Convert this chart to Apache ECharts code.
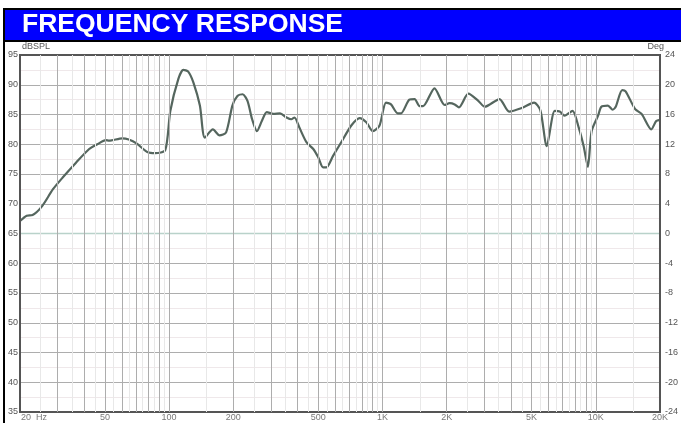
<!DOCTYPE html>
<html><head><meta charset="utf-8">
<script src="https://cdn.jsdelivr.net/npm/echarts@6/dist/echarts.min.js"></script>
<style>html,body{margin:0;padding:0;background:#fff}#c{width:681px;height:423px}</style>
</head><body><div id="c"></div>
<script>
// ---- data ----
const freqs = [20, 21.5, 22.9, 25.4, 28.5, 31.7, 36.6, 42.2, 46.1, 50.5, 52.3, 60.3, 64.7, 70.6, 79, 86.1, 95.9, 101.3, 110.5, 116.6, 122.9, 129.9, 139.4, 147, 160.4, 172.3, 185, 198, 209, 221, 233, 245, 258, 272, 287, 308, 331, 355, 374, 387, 408, 441, 474, 500, 527, 546, 586, 640, 716, 782, 840, 902, 968, 1039, 1097, 1179, 1222, 1337, 1415, 1494, 1550, 1754, 1957, 2066, 2181, 2284, 2527, 2814, 3017, 3537, 3925, 4500, 5140, 5500, 5890, 6420, 6780, 7140, 7780, 8320, 8770, 9180, 9560, 10250, 10620, 11400, 12000, 12400, 13300, 13800, 15300, 16400, 18200, 19200, 20000];
const splValues = [67.1, 68.0, 68.1, 69.6, 72.4, 74.4, 76.9, 79.2, 80.0, 80.7, 80.6, 81.0, 80.8, 80.1, 78.7, 78.5, 79.0, 85.6, 91.0, 92.5, 92.2, 90.4, 86.5, 81.1, 82.5, 81.5, 82.0, 86.5, 88.1, 88.4, 87.3, 84.2, 82.2, 83.9, 85.4, 85.1, 85.2, 84.5, 84.2, 84.5, 82.8, 80.3, 79.2, 77.8, 76.1, 76.1, 78.0, 80.3, 83.2, 84.4, 83.7, 82.2, 83.1, 87.0, 86.7, 85.2, 85.2, 87.5, 87.6, 86.4, 86.4, 89.4, 86.6, 86.9, 86.7, 86.2, 88.5, 87.3, 86.3, 87.6, 85.5, 86.1, 87.0, 85.7, 79.7, 85.6, 85.5, 84.8, 85.6, 82.8, 79.7, 76.2, 82.2, 84.8, 86.3, 86.5, 85.8, 86.3, 89.1, 88.9, 85.9, 85.1, 82.5, 83.9, 84.1];
const phaseFreqs = [20, 20000];
const phaseValues = [0, 0];
const xTickValues = [20, 50, 100, 200, 500, 1000, 2000, 5000, 10000, 20000];
const xTickLabels = ['20  Hz', '50', '100', '200', '500', '1K', '2K', '5K', '10K', '20K'];
const majorGridFreqs = [30, 40, 50, 60, 70, 80, 90, 100, 200, 300, 400, 500, 600, 700, 800, 900, 1000, 2000, 3000, 4000, 5000, 6000, 7000, 8000, 9000, 10000];
const minorGridFreqs = [25, 35, 45, 55, 65, 75, 85, 95, 150, 250, 350, 450, 550, 650, 750, 850, 950, 1500, 2500, 3500, 4500, 5500, 6500, 7500, 8500, 9500, 15000];
const title = 'FREQUENCY RESPONSE';

const chart = echarts.init(document.getElementById('c'), null, {renderer: 'canvas'});
const font = 'Liberation Sans';
const option = {
  backgroundColor: '#fff',
  animation: false,
  grid: {left: 20, right: 12, top: 55, bottom: 11, show: true, borderColor: '#555', borderWidth: 2, backgroundColor: 'transparent', z: 5},
  xAxis: {
    type: 'log', logBase: 10, min: 20, max: 20000,
    axisLine: {show: false}, axisTick: {show: false}, axisLabel: {show: false},
    splitLine: {show: false}, minorSplitLine: {show: false}
  },
  yAxis: [{
    type: 'value', min: 35, max: 95, interval: 5,
    name: 'dBSPL', nameLocation: 'end', nameGap: 3,
    nameTextStyle: {fontSize: 9, color: '#555', fontFamily: font, align: 'left', verticalAlign: 'bottom', padding: [0, 0, 0, 2]},
    axisLine: {show: false}, axisTick: {show: false},
    axisLabel: {fontSize: 9, color: '#555', fontFamily: font, margin: 2},
    splitLine: {show: true, lineStyle: {color: '#adadad', width: 1}},
    minorTick: {show: false, splitNumber: 2},
    minorSplitLine: {show: true, lineStyle: {color: '#efe8ea', width: 1}}
  }, {
    type: 'value', min: -24, max: 24, interval: 4, position: 'right',
    name: 'Deg', nameLocation: 'end', nameGap: 3,
    nameTextStyle: {fontSize: 9, color: '#555', fontFamily: font, align: 'right', verticalAlign: 'bottom', padding: [0, -4, 0, 0]},
    axisLine: {show: false}, axisTick: {show: false},
    axisLabel: {fontSize: 9, color: '#555', fontFamily: font, margin: 5},
    splitLine: {show: false}
  }],
  graphic: [
    {type: 'rect', left: 3, top: 8, shape: {width: 2, height: 415}, style: {fill: '#000'}, z: 100},
    {type: 'rect', shape: {x: 4, y: 9, width: 690, height: 32}, style: {fill: '#0000ff', stroke: '#000', lineWidth: 2}, z: 100},
    {type: 'text', x: 22, y: 25, style: {text: title, fill: '#fff', font: 'bold 26.5px "Liberation Sans", Arial', textVerticalAlign: 'middle'}, z: 101}
  ],
  series: [
    {
      type: 'line', name: 'grid-minor', data: [], z: 1, silent: true,
      markLine: {silent: true, symbol: ['none', 'none'], label: {show: false}, animation: false,
        lineStyle: {color: '#e8e8e8', width: 1, type: 'solid'},
        data: minorGridFreqs.map(f => ({xAxis: f}))}
    },
    {
      type: 'line', name: 'grid-major', data: [], z: 1, silent: true,
      markLine: {silent: true, symbol: ['none', 'none'], label: {show: false}, animation: false,
        lineStyle: {color: '#adadad', width: 1, type: 'solid'},
        data: majorGridFreqs.map(f => ({xAxis: f}))}
    },
    {
      type: 'line', name: 'Phase', yAxisIndex: 1, z: 2,
      data: phaseFreqs.map((f, i) => [f, phaseValues[i]]),
      showSymbol: false, lineStyle: {color: '#b9d2ca', width: 1.5}
    },
    {
      type: 'line', name: 'SPL', z: 3,
      data: freqs.map((f, i) => [f, splValues[i]]),
      showSymbol: false, smooth: 0.25,
      lineStyle: {color: '#55665e', width: 2.2}
    },
    {
      type: 'scatter', name: 'xlabels', z: 6, clip: false, silent: true, symbolSize: 0,
      data: xTickValues.map((f, i) => ({value: [f, 35], name: xTickLabels[i],
        label: i === 0 ? {align: 'left', offset: [1, 0]} : {}})),
      label: {show: true, position: 'bottom', distance: 1, formatter: p => p.name, fontSize: 9, color: '#555', fontFamily: font}
    }
  ]
};
chart.setOption(option);
</script></body></html>
